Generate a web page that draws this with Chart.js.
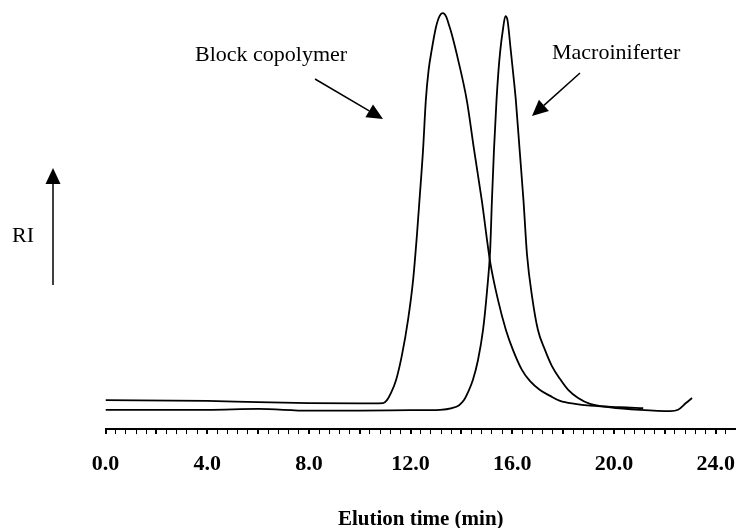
<!DOCTYPE html>
<html>
<head>
<meta charset="utf-8">
<script src="https://cdn.jsdelivr.net/npm/chart.js@4/dist/chart.umd.min.js"></script>
<style>
    body { margin: 0; background: #fff; }
    #wrap { width: 736px; height: 528px; }
</style>
</head>
<body>
<div id="wrap"><canvas id="gpcChart"></canvas></div>
<script>
// Elution time (min) and RI signal (arbitrary units, 0-100)
const blockTime = [0, 4, 6, 8, 10, 10.92, 11.07, 11.23, 11.43, 11.66, 11.90, 12.10, 12.25, 12.35, 12.49, 12.60,
    12.71, 12.83, 13.00, 13.14, 13.27, 13.40, 13.52, 13.62, 13.87, 14.21, 14.50, 14.80, 15.13, 15.44, 15.75,
    16.03, 16.38, 16.70, 17.09, 17.49, 17.88, 18.47, 19.06, 20.24, 21.15];
const blockRI = [6.9, 6.7, 6.4, 6.2, 6.1, 6.2, 6.9, 8.6, 11.7, 17.6, 26.0, 35.5, 46.2, 54.5, 66.4, 78.3,
    85.5, 90.2, 95.7, 98.3, 99.0, 98.2, 96.0, 94.0, 87.9, 78.3, 66.4, 54.5, 39.8, 30.7, 23.6,
    18.8, 14.1, 11.4, 9.3, 7.9, 6.7, 6.0, 5.6, 5.2, 5.0];

const macroTime = [0, 4, 6, 8, 10, 12, 13.16, 13.63, 13.91, 14.10, 14.26, 14.45, 14.65, 14.85, 15.01, 15.13,
    15.20, 15.28, 15.38, 15.46, 15.53, 15.63, 15.73, 15.81, 15.94, 16.03, 16.14, 16.29, 16.44, 16.58, 16.78,
    17.01, 17.29, 17.56, 17.88, 18.19, 18.59, 19.06, 19.85, 21.03, 22.21, 22.52, 22.83, 23.07];
const macroRI = [4.6, 4.6, 4.8, 4.4, 4.4, 4.5, 4.6, 5.0, 5.7, 6.9, 8.8, 11.7, 16.4, 23.6, 33.1, 42.6,
    54.5, 66.4, 78.3, 85.5, 90.2, 95.0, 98.3, 97.4, 90.2, 85.0, 78.3, 66.4, 54.5, 41.5, 31.5,
    23.6, 18.8, 15.0, 11.9, 9.4, 7.4, 6.0, 5.2, 4.6, 4.3, 4.6, 6.2, 7.4];

const labelEvery = 4;    // labelled ticks
const majorEvery = 2;    // thicker ticks
const minorStep = 0.4;

const serif = '"Liberation Serif", "Times New Roman", serif';

function toPoints(xs, ys) {
    return xs.map(function(x, i) { return { x: x, y: ys[i] }; });
}

function isMultiple(v, m) {
    return Math.abs(v / m - Math.round(v / m)) < 1e-6;
}

// Text and arrows drawn over the plot
const annotations = {
    id: 'annotations',
    afterDraw: function(chart) {
        const ctx = chart.ctx;
        ctx.save();
        ctx.fillStyle = '#000';
        ctx.strokeStyle = '#000';
        ctx.font = '22px ' + serif;
        ctx.textBaseline = 'alphabetic';
        ctx.textAlign = 'left';
        ctx.fillText('Block copolymer', 195, 61);
        ctx.fillText('Macroiniferter', 552, 59);
        ctx.fillText('RI', 12, 242);

        drawArrow(ctx, 315, 79, 383, 119);
        drawArrow(ctx, 580, 73, 532, 116);
        drawArrow(ctx, 53, 285, 53, 168);
        ctx.restore();
    }
};

function drawArrow(ctx, x1, y1, x2, y2) {
    const head = 16, half = 7.5;
    const ang = Math.atan2(y2 - y1, x2 - x1);
    const bx = x2 - head * Math.cos(ang), by = y2 - head * Math.sin(ang);
    ctx.lineWidth = 1.5;
    ctx.beginPath();
    ctx.moveTo(x1, y1);
    ctx.lineTo(bx, by);
    ctx.stroke();
    ctx.beginPath();
    ctx.moveTo(x2, y2);
    ctx.lineTo(bx + half * Math.sin(ang), by - half * Math.cos(ang));
    ctx.lineTo(bx - half * Math.sin(ang), by + half * Math.cos(ang));
    ctx.closePath();
    ctx.fill();
}

const ctx = document.getElementById('gpcChart').getContext('2d');
const gpcChart = new Chart(ctx, {
    type: 'scatter',
    data: {
        datasets: [
            {
                label: 'Block copolymer',
                data: toPoints(blockTime, blockRI),
                showLine: true,
                borderColor: '#000',
                borderWidth: 1.8,
                pointRadius: 0,
                cubicInterpolationMode: 'monotone'
            },
            {
                label: 'Macroiniferter',
                data: toPoints(macroTime, macroRI),
                showLine: true,
                borderColor: '#000',
                borderWidth: 1.8,
                pointRadius: 0,
                cubicInterpolationMode: 'monotone'
            }
        ]
    },
    options: {
        responsive: true,
        maintainAspectRatio: false,
        animation: false,
        layout: {
            padding: { left: 105.5, right: 0, top: 9, bottom: 0 }
        },
        plugins: {
            legend: { display: false },
            tooltip: { enabled: false }
        },
        scales: {
            x: {
                type: 'linear',
                min: 0,
                max: 24.8,
                afterFit: function(scale) {
                    // no extra room for edge labels
                    scale.paddingLeft = 0;
                    scale.paddingRight = 0;
                },
                border: { display: true, color: '#000', width: 2 },
                grid: {
                    drawOnChartArea: false,
                    drawTicks: true,
                    tickLength: 5,
                    color: '#000',
                    lineWidth: function(c) {
                        return c.tick && isMultiple(c.tick.value, majorEvery) ? 2 : 1;
                    }
                },
                ticks: {
                    stepSize: minorStep,
                    autoSkip: false,
                    maxRotation: 0,
                    minRotation: 0,
                    padding: 18,
                    color: '#000',
                    font: { family: serif, size: 22, weight: 'bold', lineHeight: 1.1 },
                    callback: function(v) {
                        return isMultiple(v, labelEvery) ? v.toFixed(1) : '';
                    }
                },
                title: {
                    display: true,
                    text: 'Elution time (min)',
                    color: '#000',
                    font: { family: serif, size: 21, weight: 'bold', lineHeight: 0.7 },
                    padding: { top: 18, bottom: 1 }
                }
            },
            y: {
                display: false,
                min: 0,
                max: 100
            }
        }
    },
    plugins: [annotations]
});
</script>
</body>
</html>
